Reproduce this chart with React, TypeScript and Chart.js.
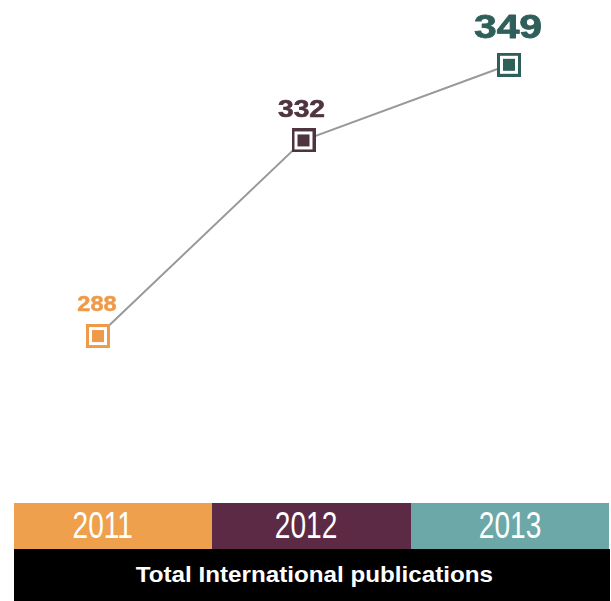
import React, { useEffect, useRef } from "react";
import { Chart, registerables } from "chart.js";

Chart.register(...registerables);

const years = ["2011", "2012", "2013"];
const publications = [288, 332, 349];
const title = "Total International publications";

const bandColors = ["#EFA04C", "#5D2A46", "#6CA8A7"];
const markerColors = ["#EE9A48", "#4F3440", "#2F5F5B"];
const labelColors = ["#EE9A48", "#4F3440", "#2F5F5B"];
// label style: font size, horizontal stretch, baseline offset above point, x offset
const labelSizes = [22, 23.5, 33.5];
const labelStretch = [1.07, 1.2, 1.22];
const labelLift = [25, 23, 27];
const labelShiftX = [-1, -2, -1];
const labelStroke = [0.5, 0.6, 0.8];
const yearShiftX = [-10, -5, 0];

function makeMarker(color: string): HTMLCanvasElement {
  const c = document.createElement("canvas");
  const s = 24;
  c.width = s;
  c.height = s;
  const ctx = c.getContext("2d")!;
  ctx.fillStyle = color;
  ctx.fillRect(0, 0, s, s);
  ctx.fillStyle = "#ffffff";
  ctx.fillRect(3, 3, s - 6, s - 6);
  ctx.fillStyle = color;
  ctx.fillRect(6, 6, s - 12, s - 12);
  return c;
}

const valueLabels = {
  id: "valueLabels",
  afterDatasetsDraw(chart: any) {
    const meta = chart.getDatasetMeta(0);
    const ctx = chart.ctx;
    meta.data.forEach((pt: any, i: number) => {
      const v = chart.data.datasets[0].data[i];
      ctx.save();
      ctx.translate(pt.x + labelShiftX[i], pt.y - labelLift[i]);
      ctx.scale(labelStretch[i], 1);
      ctx.font = `bold ${labelSizes[i]}px "Liberation Sans", Arial, sans-serif`;
      ctx.fillStyle = labelColors[i];
      ctx.strokeStyle = labelColors[i];
      ctx.lineWidth = labelStroke[i];
      ctx.lineJoin = "round";
      ctx.textAlign = "center";
      ctx.textBaseline = "alphabetic";
      ctx.fillText(String(v), 0, 0);
      ctx.strokeText(String(v), 0, 0);
      ctx.restore();
    });
  },
};

export default function App() {
  const ref = useRef<HTMLCanvasElement | null>(null);

  useEffect(() => {
    if (!ref.current) return;
    const markers = markerColors.map(makeMarker);
    const chart = new Chart(ref.current, {
      type: "line",
      data: {
        labels: years,
        datasets: [
          {
            data: publications,
            borderColor: "#999999",
            borderWidth: 2,
            pointStyle: markers as any,
            pointRadius: 12,
            pointHoverRadius: 12,
            tension: 0,
            clip: false as any,
          },
        ],
      },
      options: {
        responsive: false,
        animation: false,
        layout: { autoPadding: false, padding: { left: 98, right: 102, top: 7, bottom: 96 } },
        plugins: { legend: { display: false }, tooltip: { enabled: false } },
        scales: {
          x: { display: false, offset: false },
          y: { display: false, min: 250, max: 362 },
        },
      },
      plugins: [valueLabels],
    });
    return () => chart.destroy();
  }, []);

  return (
    <div style={{ position: "absolute", left: 0, top: 0, width: 611, height: 601, background: "#fff", overflow: "hidden" }}>
      <canvas ref={ref} width={611} height={601} style={{ position: "absolute", left: 0, top: 0 }} />
      <div style={{ position: "absolute", left: 14, top: 503, width: 595, height: 46, display: "flex" }}>
        {years.map((y, i) => (
          <div
            key={y}
            style={{
              flex: 1,
              background: bandColors[i],
              display: "flex",
              alignItems: "center",
              justifyContent: "center",
              overflow: "hidden",
            }}
          >
            <span
              style={{
                color: "#fff",
                fontFamily: '"Liberation Sans", Arial, sans-serif',
                fontSize: 36,
                lineHeight: "46px",
                display: "inline-block",
                transform: `translateX(${yearShiftX[i]}px) scaleX(0.78)`,
              }}
            >
              {y}
            </span>
          </div>
        ))}
      </div>
      <div
        style={{
          position: "absolute",
          left: 14,
          top: 549,
          width: 596,
          height: 52,
          background: "#000",
          display: "flex",
          alignItems: "center",
          justifyContent: "center",
        }}
      >
        <span
          style={{
            color: "#fff",
            fontFamily: '"Liberation Sans", Arial, sans-serif',
            fontWeight: "bold",
            fontSize: 22,
            display: "inline-block",
            transform: "translateX(2px) scaleX(1.1)",
            marginTop: -1,
          }}
        >
          {title}
        </span>
      </div>
    </div>
  );
}
